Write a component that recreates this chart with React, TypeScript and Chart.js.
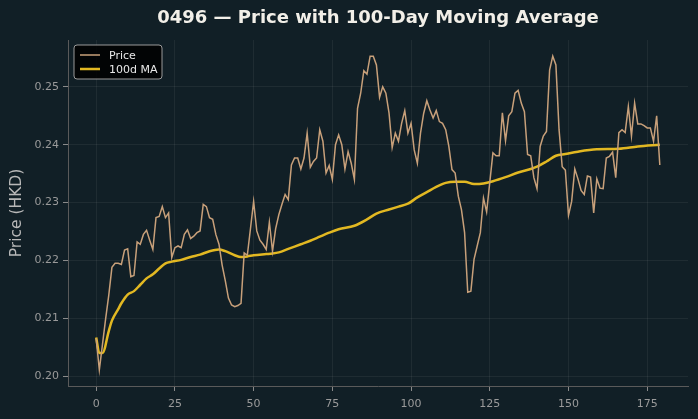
import React, { useEffect, useRef } from "react";
import { Chart, registerables } from "chart.js";
Chart.register(...registerables);

const titleText = "0496 — Price with 100-Day Moving Average";
const yTitle = "Price (HKD)";
const seriesNames = ["Price", "100d MA"];
const xTicks = [0, 25, 50, 75, 100, 125, 150, 175];
const yTicks = [0.2, 0.21, 0.22, 0.23, 0.24, 0.25];

const price = [
  0.2065, 0.2011, 0.2055, 0.2099, 0.214, 0.2188, 0.2195, 0.2195, 0.2193, 0.2218,
  0.222, 0.2172, 0.2174, 0.2232, 0.2228, 0.2245, 0.2252, 0.2235, 0.2219, 0.2274,
  0.2276, 0.2293, 0.2274, 0.2282, 0.2205, 0.2222, 0.2225, 0.2222, 0.2245, 0.2253,
  0.2238, 0.2242, 0.2248, 0.2251, 0.2297, 0.2293, 0.2274, 0.2271, 0.2245, 0.2228,
  0.2192, 0.2165, 0.2135, 0.2123, 0.212, 0.2122, 0.2126, 0.2213, 0.2209, 0.2255,
  0.2302, 0.2251, 0.2235, 0.2228, 0.2219, 0.2266, 0.2216, 0.2255, 0.2279, 0.2297,
  0.2314, 0.2305, 0.2365, 0.2377, 0.2377, 0.2358, 0.2377, 0.242, 0.2361, 0.2371,
  0.2377, 0.2426, 0.2406, 0.2351, 0.2364, 0.234, 0.24, 0.2417, 0.24, 0.2358,
  0.2388, 0.2368, 0.234, 0.2463, 0.2489, 0.2528, 0.2522, 0.2553, 0.2553, 0.2538,
  0.2482, 0.25, 0.2489, 0.2455, 0.2395, 0.242, 0.2406, 0.2437, 0.2459, 0.242,
  0.2437, 0.2391, 0.2368, 0.242, 0.2454, 0.2476, 0.246, 0.2446, 0.2459, 0.244,
  0.2437, 0.2426, 0.2397, 0.2357, 0.2351, 0.2311, 0.2288, 0.2248, 0.2145, 0.2147,
  0.2202, 0.2225, 0.2248, 0.2308, 0.2284, 0.2335, 0.2386, 0.2381, 0.2381, 0.2455,
  0.2407, 0.245, 0.2457, 0.2489, 0.2494, 0.2472, 0.2457, 0.2383, 0.2381, 0.2343,
  0.2324, 0.2397, 0.2415, 0.2423, 0.2529, 0.2553, 0.2538, 0.2426, 0.2362, 0.2356,
  0.2278, 0.2302, 0.2358, 0.2341, 0.2321, 0.2314, 0.2346, 0.2344, 0.2282, 0.2341,
  0.2325, 0.2324, 0.2377, 0.238, 0.2387, 0.2343, 0.2421, 0.2426, 0.2421, 0.2466,
  0.2415, 0.2472, 0.2436, 0.2436, 0.2433, 0.2429, 0.2429, 0.2406, 0.245, 0.2365,
];

const maDays = [
  0, 1, 2, 4, 5, 7, 8, 10, 12, 14, 16, 18, 20, 22, 24, 27, 30, 33, 36, 39, 41, 44,
  46, 48, 50, 54, 56, 58, 61, 65, 68, 71, 74, 77, 82, 86, 89, 93, 96, 99, 102, 105,
  108, 111, 114, 117, 120, 123, 126, 130, 134, 138, 140, 143, 146, 149, 153, 159,
  166, 172, 179,
];
const maValues = [
  0.2067, 0.204, 0.204, 0.2078, 0.2096, 0.2116, 0.2126, 0.2141, 0.2147, 0.2158,
  0.2169, 0.2176, 0.2186, 0.2195, 0.2198, 0.2201, 0.2206, 0.221, 0.2216, 0.2219,
  0.2216, 0.2209, 0.2206, 0.2207, 0.2209, 0.2211, 0.2212, 0.2214, 0.222, 0.2228,
  0.2234, 0.2241, 0.2248, 0.2254, 0.226, 0.2271, 0.2281, 0.2288, 0.2293, 0.2298,
  0.2309, 0.2318, 0.2327, 0.2334, 0.2336, 0.2336, 0.2332, 0.2333, 0.2337, 0.2344,
  0.2352, 0.2358, 0.2362, 0.2371, 0.2381, 0.2384, 0.2388, 0.2392, 0.2393, 0.2397,
  0.24,
];

const BG = "#111f26";
const PRICE_COLOR = "#c8a07a";
const MA_COLOR = "#e2b822";
const FONT = "'DejaVu Sans', sans-serif";

export default function App() {
  const ref = useRef<HTMLCanvasElement | null>(null);
  useEffect(() => {
    document.body.style.margin = "0";
    document.body.style.background = BG;
    const canvas = ref.current!;
    const bgPlugin = {
      id: "bg",
      beforeDraw(chart: any) {
        const ctx = chart.ctx;
        ctx.save();
        ctx.fillStyle = BG;
        ctx.fillRect(0, 0, chart.width, chart.height);
        ctx.restore();
      },
    };
    const decoPlugin = {
      id: "deco",
      afterDraw(chart: any) {
        const ctx = chart.ctx;
        const a = chart.chartArea;
        ctx.save();
        // title
        ctx.fillStyle = "#f2efe8";
        ctx.font = `bold 18px ${FONT}`;
        ctx.textAlign = "center";
        ctx.textBaseline = "middle";
        ctx.fillText(titleText, (a.left + a.right) / 2, 18);
        // y title
        ctx.save();
        ctx.translate(17, (a.top + a.bottom) / 2);
        ctx.rotate(-Math.PI / 2);
        ctx.fillStyle = "#b8b8b8";
        ctx.font = `15.5px ${FONT}`;
        ctx.fillText(yTitle, 0, 0);
        ctx.restore();
        // legend
        const lx = a.left + 6, ly = a.top + 5, lw = 88, lh = 34;
        ctx.beginPath();
        const r = 3;
        ctx.moveTo(lx + r, ly);
        ctx.arcTo(lx + lw, ly, lx + lw, ly + lh, r);
        ctx.arcTo(lx + lw, ly + lh, lx, ly + lh, r);
        ctx.arcTo(lx, ly + lh, lx, ly, r);
        ctx.arcTo(lx, ly, lx + lw, ly, r);
        ctx.closePath();
        ctx.fillStyle = "rgba(0,0,0,0.85)";
        ctx.fill();
        ctx.strokeStyle = "#9a9a9a";
        ctx.lineWidth = 1;
        ctx.stroke();
        const colors = [PRICE_COLOR, MA_COLOR];
        const widths = [1.5, 2.5];
        ctx.font = `11px ${FONT}`;
        ctx.textAlign = "left";
        seriesNames.forEach((n, i) => {
          const yy = ly + 10 + i * 14;
          ctx.beginPath();
          ctx.moveTo(lx + 6, yy);
          ctx.lineTo(lx + 26, yy);
          ctx.strokeStyle = colors[i];
          ctx.lineWidth = widths[i];
          ctx.stroke();
          ctx.fillStyle = "#e8e8e8";
          ctx.fillText(n, lx + 35, yy + 1);
        });
        ctx.restore();
      },
    };
    const chart = new Chart(canvas, {
      type: "line",
      data: {
        datasets: [
          {
            label: seriesNames[0],
            data: price.map((v, i) => ({ x: i, y: v })),
            borderColor: PRICE_COLOR,
            borderWidth: 1.5,
            pointRadius: 0,
            tension: 0,
          },
          {
            label: seriesNames[1],
            data: maDays.map((d, i) => ({ x: d, y: maValues[i] })),
            borderColor: MA_COLOR,
            borderWidth: 2.5,
            pointRadius: 0,
            cubicInterpolationMode: "monotone",
          },
        ],
      },
      options: {
        animation: false,
        responsive: false,
        layout: { padding: { top: 40, right: 10, left: 0, bottom: 0 } },
        plugins: { legend: { display: false }, title: { display: false }, tooltip: { enabled: false } },
        scales: {
          x: {
            type: "linear",
            min: -8.95,
            max: 187.95,
            afterBuildTicks: (s: any) => {
              s.ticks = xTicks.map((v) => ({ value: v }));
            },
            afterFit: (s: any) => {
              s.height = 33;
            },
            grid: { color: "rgba(255,255,255,0.06)", tickColor: "#8a8a8a", tickLength: 5, lineWidth: 1 },
            border: { display: true, color: "#5a5a5a", width: 1 },
            ticks: { color: "#9a9a9a", font: { family: FONT, size: 11 }, padding: 7, maxRotation: 0 },
          },
          y: {
            type: "linear",
            min: 0.1983,
            max: 0.2581,
            afterBuildTicks: (s: any) => {
              s.ticks = yTicks.map((v) => ({ value: v }));
            },
            afterFit: (s: any) => {
              s.width = 68;
            },
            grid: { color: "rgba(255,255,255,0.06)", tickColor: "#8a8a8a", tickLength: 5, lineWidth: 1 },
            border: { display: true, color: "#5a5a5a", width: 1 },
            ticks: {
              color: "#9a9a9a",
              font: { family: FONT, size: 11 },
              padding: 4,
              callback: (v: any) => Number(v).toFixed(2),
            },
          },
        },
      },
      plugins: [bgPlugin, decoPlugin],
    } as any);
    return () => chart.destroy();
  }, []);
  return (
    <div style={{ width: 698, height: 419, background: BG }}>
      <canvas ref={ref} width={698} height={419} style={{ display: "block" }} />
    </div>
  );
}
